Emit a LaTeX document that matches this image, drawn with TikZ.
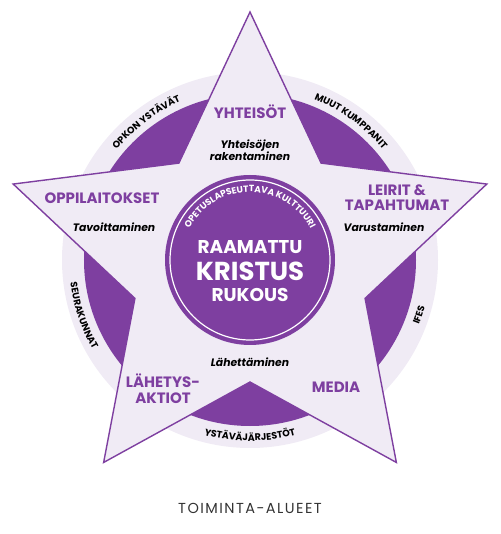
\documentclass[tikz,border=0pt]{standalone}
\usepackage{fontspec}
\setmainfont{Poppins}
\usetikzlibrary{decorations.text}
\definecolor{starpurple}{HTML}{7E3FA0}
\definecolor{lavender}{HTML}{F0EBF5}
\definecolor{titlegray}{HTML}{333333}
\begin{document}
\begin{tikzpicture}[x=1pt,y=1pt,
    area/.style={text=starpurple,font=\bfseries\fontsize{15}{15}\selectfont,align=center},
    task/.style={text=black,font=\bfseries\itshape\fontsize{10.8}{12.5}\selectfont,align=center},
    core/.style={text=white,font=\bfseries\fontsize{#1}{#1}\selectfont},
    ringtext/.style={decorate,decoration={text along path,text align=center,
        text={|\bfseries\fontsize{9.5}{10}\selectfont|#1}}}]
    \useasboundingbox (-250,-274) rectangle (250,260);

    % The light ring and the dark disc
    \fill[lavender] (0,0) circle (188pt);
    \fill[starpurple] (0,0) circle (166pt);

    % The star
    \draw[starpurple,line width=1.4pt,fill=lavender,line join=miter]
        ([shift={(0,-1)}]90:249)
        -- ([shift={(0,-1)}]126:121) -- ([shift={(0,-1)}]162:249)
        -- ([shift={(0,-1)}]198:121) -- ([shift={(0,-1)}]234:249)
        -- ([shift={(0,-1)}]270:121) -- ([shift={(0,-1)}]306:249)
        -- ([shift={(0,-1)}]342:121) -- ([shift={(0,-1)}]18:249)
        -- ([shift={(0,-1)}]54:121) -- cycle;

    % The ring texts
    \path[ringtext={OPKON YSTÄVÄT}] (146:173) arc[start angle=146,end angle=108,radius=173pt];
    \path[ringtext={MUUT KUMPPANIT}] (74:173) arc[start angle=74,end angle=34,radius=173pt];
    \path[ringtext={SEURAKUNNAT}] (180:181) arc[start angle=180,end angle=217,radius=181pt];
    \path[ringtext={IFES}] (-26:181) arc[start angle=-26,end angle=-10,radius=181pt];
    \path[ringtext={YSTÄVÄJÄRJESTÖT}] (249:181) arc[start angle=249,end angle=291,radius=181pt];

    % The centre circle
    \fill[starpurple] (0,0) circle (85pt);
    \draw[white,line width=1.2pt] (0,0) circle (80pt);
    \path[decorate,decoration={text along path,text align=center,
        text={|\bfseries\fontsize{9}{9}\selectfont\color{white}|OPETUSLAPSEUTTAVA KULTTUURI}}]
        (170:68) arc[start angle=170,end angle=10,radius=68pt];
    \node[core=18.5] (raamattu) at (0,13) {RAAMATTU};
    \node[core=26] (kristus) at (0,-11) {KRISTUS};
    \node[core=18.5] (rukous) at (0,-35) {RUKOUS};

    % The areas and their tasks
    \node[area] (yhteisot) at (0,148) {YHTEISÖT};
    \node[task] (rakentaminen) at (0,110) {Yhteisöjen\\rakentaminen};
    \node[area] (oppilaitokset) at (-148,62) {OPPILAITOKSET};
    \node[task] (tavoittaminen) at (-136,33) {Tavoittaminen};
    \node[area] (leirit) at (147,62) {LEIRIT \&\\TAPAHTUMAT};
    \node[task] (varustaminen) at (134,33) {Varustaminen};
    \node[task] (lahettaminen) at (0,-102) {Lähettäminen};
    \node[area,font=\bfseries\fontsize{15}{16}\selectfont] (lahetys) at (-87,-129) {LÄHETYS-\\AKTIOT};
    \node[area] (media) at (86,-127) {MEDIA};

    \node[text=titlegray,font=\fontsize{14.5}{15}\selectfont\addfontfeature{LetterSpace=10}] (title) at (0,-248) {TOIMINTA-ALUEET};
\end{tikzpicture}
\end{document}
